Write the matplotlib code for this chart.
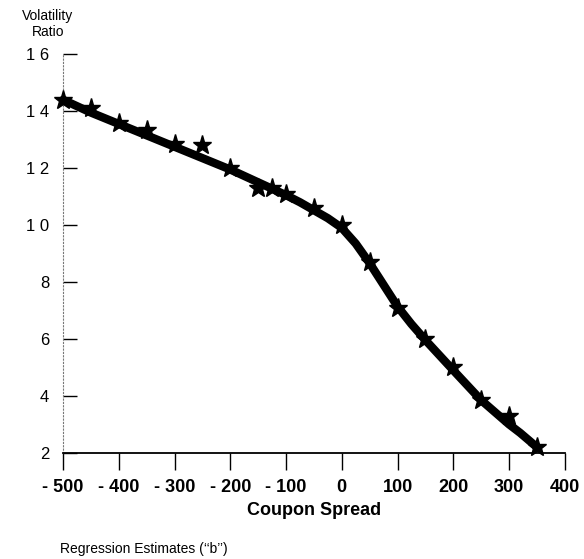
import matplotlib
matplotlib.use("Agg")
import matplotlib.pyplot as plt

plt.rcParams["font.family"] = ["Liberation Sans", "DejaVu Sans"]

# regression estimates
spread = [-500, -450, -400, -350, -300, -250, -200, -150, -125, -100, -50,
          0, 50, 100, 150, 200, 250, 300, 350]
ratio = [1.44, 1.41, 1.36, 1.335, 1.285, 1.28, 1.20, 1.13, 1.13, 1.11, 1.06,
         1.00, 0.87, 0.71, 0.60, 0.50, 0.385, 0.33, 0.22]

# fitted curve (traced)
curve_x = [-500, -450, -400, -350, -300, -250, -200, -150, -100, -75, -50,
           -25, 0, 25, 50, 75, 100, 125, 150, 200, 250, 300, 320, 335, 350]
curve_y = [1.44, 1.395, 1.355, 1.315, 1.275, 1.235, 1.195, 1.15, 1.105,
           1.08, 1.052, 1.024, 0.99, 0.935, 0.866, 0.79, 0.714, 0.652, 0.596,
           0.49, 0.385, 0.30, 0.27, 0.245, 0.22]

xticks = [-500, -400, -300, -200, -100, 0, 100, 200, 300, 400]
xlabels = ["- 500", "- 400", "- 300", "- 200", "- 100", "0", "100", "200", "300", "400"]
yticks = [0.2, 0.4, 0.6, 0.8, 1.0, 1.2, 1.4, 1.6]
ylabels = ["2", "4", "6", "8", "1 0", "1 2", "1 4", "1 6"]

fig = plt.figure(figsize=(5.84, 5.59), dpi=100)
ax = fig.add_axes([0.108, 0.19, 0.859, 0.713])

ax.plot(curve_x, curve_y, color="black", lw=6, solid_capstyle="round",
        solid_joinstyle="round", clip_on=False, zorder=3)
ax.plot(spread, ratio, linestyle="none", marker="*", ms=14, color="black",
        clip_on=False, zorder=4)

ax.set_xlim(-500, 400)
ax.set_ylim(0.2, 1.6)

ax.spines["top"].set_visible(False)
ax.spines["right"].set_visible(False)
ax.spines["left"].set_linestyle((0, (1, 2)))
ax.spines["left"].set_color("#777777")
ax.spines["left"].set_linewidth(0.8)
ax.spines["bottom"].set_linewidth(1.3)

ax.set_xticks(xticks)
ax.set_xticklabels(xlabels, fontsize=13, fontweight="bold")
ax.tick_params(axis="x", direction="out", length=12, width=1, pad=7)
ax.set_yticks(yticks)
ax.set_yticklabels(ylabels, fontsize=12)
ax.tick_params(axis="y", direction="in", length=10, width=1, pad=10)

ax.set_xlabel("Coupon Spread", fontsize=13, fontweight="bold", labelpad=4)

fig.text(0.082, 0.972, "Volatility", ha="center", va="center", fontsize=10)
fig.text(0.082, 0.942, "Ratio", ha="center", va="center", fontsize=10)
fig.text(0.103, 0.018, "Regression Estimates (\u2018\u2018b\u2019\u2019)", ha="left",
         va="center", fontsize=10)

fig.savefig("out.png", dpi=100)
